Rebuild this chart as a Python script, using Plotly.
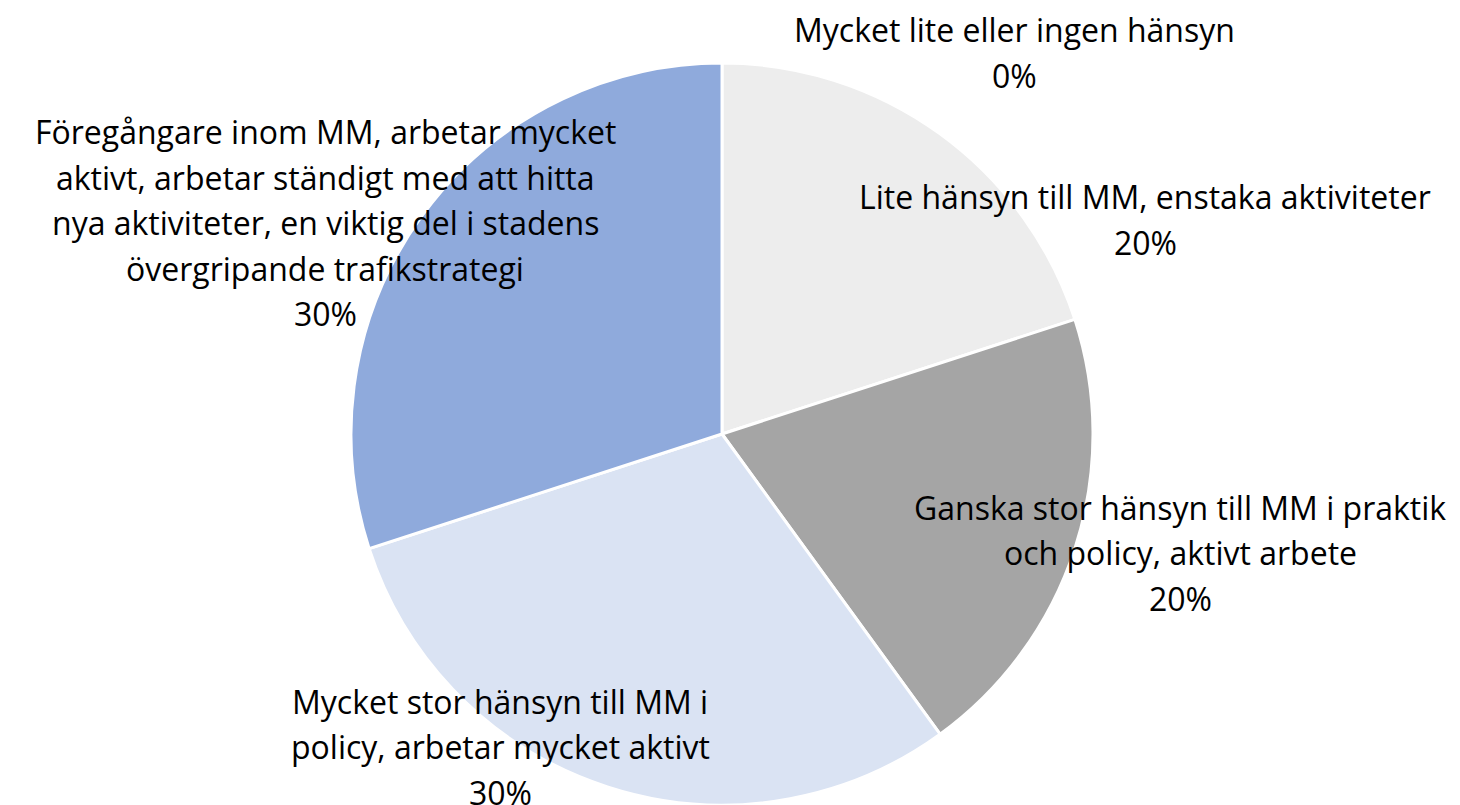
import plotly.graph_objects as go

categories = [
    "Mycket lite eller ingen hänsyn",
    "Lite hänsyn till MM, enstaka aktiviteter",
    "Ganska stor hänsyn till MM i praktik och policy, aktivt arbete",
    "Mycket stor hänsyn till MM i policy, arbetar mycket aktivt",
    "Föregångare inom MM, arbetar mycket aktivt, arbetar ständigt med att hitta nya aktiviteter, en viktig del i stadens övergripande trafikstrategi",
]
values = [0, 20, 20, 30, 30]
label_lines = [
    ["Mycket lite eller ingen hänsyn"],
    ["Lite hänsyn till MM, enstaka aktiviteter"],
    ["Ganska stor hänsyn till MM i praktik", "och policy, aktivt arbete"],
    ["Mycket stor hänsyn till MM i", "policy, arbetar mycket aktivt"],
    ["Föregångare inom MM, arbetar mycket", "aktivt, arbetar ständigt med att hitta",
     "nya aktiviteter, en viktig del i stadens", "övergripande trafikstrategi"],
]
colors = ["#D9D9D9", "#EDEDED", "#A5A5A5", "#DAE3F3", "#8FAADC"]

W, H = 1460, 805
OFF = 8  # default page body margin
FONT = "Open Sans, sans-serif"
FS = 32
LINE = 45.5

def px(x):
    return (x - OFF) / W

def py(y):
    return 1 - (y - OFF) / H

# centre x and first-line centre y of each label block (pixels)
label_pos = [(1014, 30), (1145, 197), (1180, 507), (500, 701), (325, 132)]

fig = go.Figure(go.Pie(
    labels=categories,
    values=values,
    sort=False,
    direction="clockwise",
    rotation=0,
    marker=dict(colors=colors, line=dict(color="white", width=3)),
    textinfo="none",
    hoverinfo="label+percent",
    domain=dict(x=[px(351), px(1093)], y=[py(805), py(63)]),
    showlegend=False,
))

total = sum(values)
annotations = []
for lines, v, (x, y0) in zip(label_lines, values, label_pos):
    all_lines = lines + [f"{round(100 * v / total)}%"]
    for i, line in enumerate(all_lines):
        annotations.append(dict(
            x=px(x), y=py(y0 + i * LINE), xref="paper", yref="paper",
            text=line, showarrow=False, xanchor="center", yanchor="middle",
            align="center", font=dict(family=FONT, size=FS, color="#000000"),
        ))

fig.update_layout(
    width=W, height=H,
    margin=dict(l=0, r=0, t=0, b=0),
    paper_bgcolor="white", plot_bgcolor="white",
    annotations=annotations,
)

fig.write_html("out.html")
